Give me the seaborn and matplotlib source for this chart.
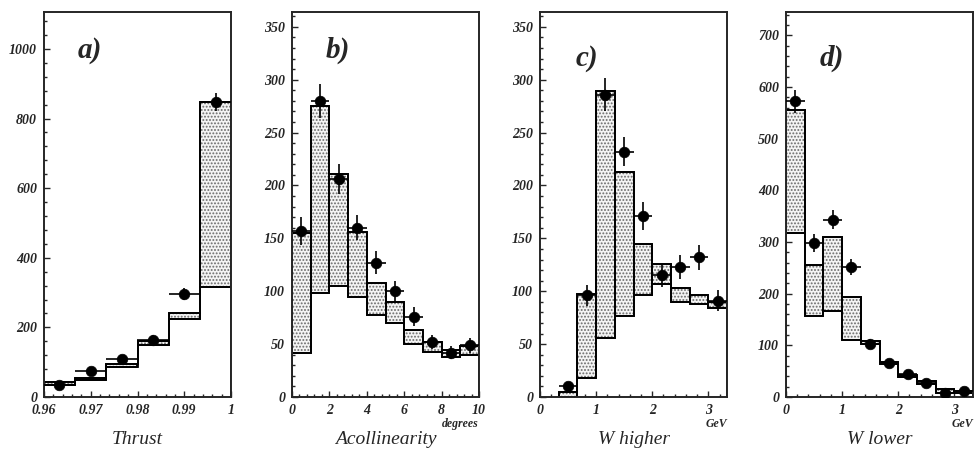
import matplotlib
matplotlib.use("Agg")
import matplotlib.pyplot as plt
from matplotlib.ticker import AutoMinorLocator, FixedLocator, FixedFormatter
import numpy as np
import seaborn as sns
import pandas as pd

sns.set_style("ticks")
plt.rcParams['font.family'] = ['Liberation Serif', 'DejaVu Serif']
plt.rcParams['hatch.linewidth'] = 0.9

# ---------------- data ----------------
# a) Thrust
a_edges = [0.96, 0.96667, 0.97333, 0.98, 0.98667, 0.99333, 1.0]
a_lower = [35, 50, 85, 150, 225, 315]
a_upper = [42, 56, 95, 160, 242, 848]
a_x = [0.9633, 0.97, 0.9767, 0.9833, 0.99, 0.9967]
a_y = [35, 75, 108, 165, 297, 848]
a_err = [6, 9, 10, 13, 17, 25]

# b) Acollinearity
b_edges = [0, 1, 2, 3, 4, 5, 6, 7, 8, 9, 10]
b_lower = [42, 98, 105, 95, 78, 70, 50, 43, 38, 40]
b_upper = [155, 275, 211, 156, 108, 90, 63, 52, 44, 48]
b_x = [0.5, 1.5, 2.5, 3.5, 4.5, 5.5, 6.5, 7.5, 8.5, 9.5]
b_y = [157, 280, 206, 160, 127, 100, 76, 52, 42, 49]
b_err = [13, 16, 14, 12, 11, 10, 9, 7, 6, 7]

# c) W higher
c_edges = [0.3333, 0.6667, 1.0, 1.3333, 1.6667, 2.0, 2.3333, 2.6667, 3.0, 3.3333]
c_lower = [0, 18, 56, 77, 96, 107, 90, 88, 84]
c_upper = [5, 97, 289, 213, 145, 126, 103, 96, 90]
c_x = [0.5, 0.8333, 1.1667, 1.5, 1.8333, 2.1667, 2.5, 2.8333, 3.1667]
c_y = [10, 96, 286, 232, 171, 115, 123, 132, 91]
c_err = [4, 10, 16, 14, 13, 11, 11, 12, 10]

# d) W lower
d_edges = [0.0, 0.3333, 0.6667, 1.0, 1.3333, 1.6667, 2.0, 2.3333, 2.6667, 3.0, 3.3333]
d_lower = [318, 157, 167, 110, 103, 63, 38, 25, 8, 8]
d_upper = [555, 256, 310, 193, 108, 68, 42, 30, 15, 12]
d_x = [0.1667, 0.5, 0.8333, 1.1667, 1.5, 1.8333, 2.1667, 2.5, 2.8333, 3.1667]
d_y = [572, 298, 343, 252, 102, 66, 45, 28, 8, 12]
d_err = [22, 17, 18, 16, 10, 8, 7, 5, 3, 4]

panels = [
    dict(edges=a_edges, lower=a_lower, upper=a_upper, x=a_x, y=a_y, err=a_err,
         xlim=(0.96, 1.0), ylim=(0, 1106), xt=[0.96, 0.97, 0.98, 0.99, 1.0],
         xtl=['0.96', '0.97', '0.98', '0.99', '1'], yt=[0, 200, 400, 600, 800, 1000],
         label='a)', xlabel='Thrust', unit=None, left=44, lab=(0.18, 0.90)),
    dict(edges=b_edges, lower=b_lower, upper=b_upper, x=b_x, y=b_y, err=b_err,
         xlim=(0, 10), ylim=(0, 364), xt=[0, 2, 4, 6, 8, 10],
         xtl=['0', '2', '4', '6', '8', '10'], yt=[0, 50, 100, 150, 200, 250, 300, 350],
         label='b)', xlabel='Acollinearity', unit='degrees', left=292, lab=(0.18, 0.90)),
    dict(edges=c_edges, lower=c_lower, upper=c_upper, x=c_x, y=c_y, err=c_err,
         xlim=(0, 3.3333), ylim=(0, 364), xt=[0, 1, 2, 3],
         xtl=['0', '1', '2', '3'], yt=[0, 50, 100, 150, 200, 250, 300, 350],
         label='c)', xlabel='W higher', unit='GeV', left=540, lab=(0.19, 0.88)),
    dict(edges=d_edges, lower=d_lower, upper=d_upper, x=d_x, y=d_y, err=d_err,
         xlim=(0, 3.3333), ylim=(0, 745), xt=[0, 1, 2, 3],
         xtl=['0', '1', '2', '3'], yt=[0, 100, 200, 300, 400, 500, 600, 700],
         label='d)', xlabel='W lower', unit='GeV', left=786, lab=(0.18, 0.88)),
]

W, H = 974, 454
fig = plt.figure(figsize=(W / 100, H / 100), dpi=100)

for p in panels:
    ax = fig.add_axes([p['left'] / W, (H - 397) / H, 187 / W, 385 / H])
    edges = np.array(p['edges'])
    widths = np.diff(edges)
    centers = edges[:-1] + widths / 2
    lower = np.array(p['lower'])
    upper = np.array(p['upper'])
    # stippled band
    ax.bar(centers, upper - lower, bottom=lower, width=widths, color='#f4f4f4',
           edgecolor='#6a6a6a', hatch='.....', linewidth=0, zorder=1)
    ax.bar(centers, upper - lower, bottom=lower, width=widths, fill=False,
           edgecolor='black', linewidth=1.3, zorder=2)
    ax.stairs(lower, edges, color='black', linewidth=1.3, zorder=2)
    ax.stairs(upper, edges, color='black', linewidth=1.3, zorder=2)
    # data points
    df = pd.DataFrame({'x': p['x'], 'y': p['y']})
    ax.errorbar(p['x'], p['y'], yerr=p['err'], xerr=widths / 2, fmt='none',
                ecolor='black', elinewidth=1.2, capsize=0, zorder=3)
    sns.scatterplot(data=df, x='x', y='y', ax=ax, color='black', s=58,
                    edgecolor='black', linewidth=0.5, zorder=4, legend=False)
    ax.set_xlim(*p['xlim'])
    ax.set_ylim(*p['ylim'])
    ax.xaxis.set_major_locator(FixedLocator(p['xt']))
    ax.xaxis.set_major_formatter(FixedFormatter(p['xtl']))
    ax.yaxis.set_major_locator(FixedLocator(p['yt']))
    ax.xaxis.set_minor_locator(AutoMinorLocator(5))
    ax.yaxis.set_minor_locator(AutoMinorLocator(5))
    ax.tick_params(which='both', direction='in', top=False, right=False, width=1.0)
    ax.tick_params(which='major', length=4, pad=5)
    ax.tick_params(which='minor', length=2)
    for lbl in ax.get_xticklabels() + ax.get_yticklabels():
        lbl.set_family('Liberation Serif')
        lbl.set_weight('bold')
        lbl.set_style('italic')
        lbl.set_size(10)
    for s in ax.spines.values():
        s.set_linewidth(1.4)
        s.set_visible(True)
    ax.set_xlabel(p['xlabel'], family='Liberation Serif', style='italic',
                  size=14, labelpad=10)
    ax.set_ylabel('')
    ax.text(p['lab'][0], p['lab'][1], p['label'], transform=ax.transAxes,
            family='Liberation Serif', weight='bold', style='italic', size=21,
            ha='left', va='center')
    if p['unit']:
        ax.text(1.0, -0.055, p['unit'], transform=ax.transAxes,
                family='Liberation Serif', weight='bold', style='italic', size=8.5,
                ha='right', va='top')

fig.savefig('out.png', dpi=100)
